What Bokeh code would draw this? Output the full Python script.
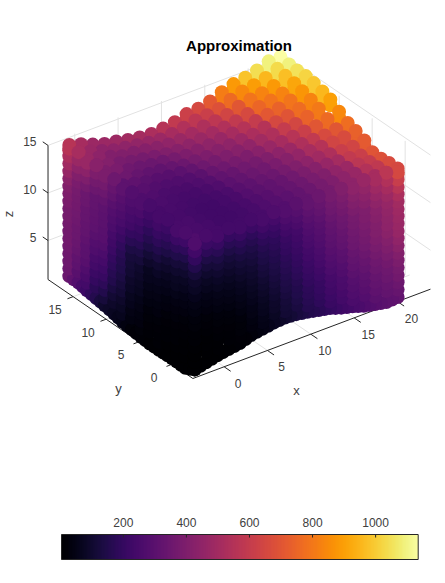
import numpy as np
from bokeh.plotting import figure
from bokeh.models import Range1d, ColumnDataSource, LinearColorMapper
from bokeh.palettes import Inferno256
from bokeh.core.properties import value
from bokeh.embed import file_html
from bokeh.resources import INLINE

TITLE = "Approximation"
x_ticks = [0, 5, 10, 15, 20]
y_ticks = [0, 5, 10, 15]
z_ticks = [5, 10, 15]
cbar_ticks = [200, 400, 600, 800, 1000]
cbar_low, cbar_high = 4, 1135
x_lim = (-3.6, 23.8)
y_lim = (-3.15, 18.8)
z_lim = (0.9, 15)

x_grid = [-3.2,-1.9,-0.6,0.7,2.0,3.3,4.6,5.9,7.2,8.5,9.8,11.1,12.4,13.7,15.0,16.3,17.6,18.9,20.2]
y_grid = [-2.9,-1.5,-0.2,1.2,2.5,3.9,5.2,6.6,8.0,9.3,10.7,12.0,13.4,14.7,16.1]
# how far the far end of each y row reaches beyond x_grid's last value
x_reach = [0,0.07,0.14,0.2,0.27,0.34,0.41,0.48,0.54,0.61,0.68,0.75,0.81,0.88,0.95]

# lower end of the point cloud along the x side and the y side
z_floor_xside = [1.6,1.9,2.2,2.4,2.6,3.0,3.2,3.4,3.5,3.4,3.2,2.95,2.7,2.3,2.0,1.6,1.35,1.1,1.2]
z_floor_yside = [1.6,1.1,1.15,1.15,1.1,1.1,1.2,1.3,1.45,1.7,1.9,2.05,2.2,2.4,2.4]
# values of the extra points half way between the lowest points
v_floor_xmid = [6,7,9,13,21,36,58,85,112,138,162,187,212,237,260,280,298,312]
v_floor_ymid = [5,6,8,9,11,15,21,37,60,84,125,188,250,310]

# upper sheet: z for each x (rows) and y (columns)
z_top = [
[15.2,15.3,15.3,15.4,15.5,15.6,15.6,15.7,15.8,15.8,15.9,16.0,16.0,16.1,16.2],
[15.2,15.2,15.3,15.3,15.3,15.4,15.4,15.5,15.5,15.5,15.6,15.6,15.7,15.7,15.8],
[15.1,15.1,15.1,15.1,15.1,15.2,15.2,15.2,15.2,15.2,15.2,15.3,15.3,15.3,15.3],
[15.1,15.1,15.1,15.1,15.0,15.0,15.0,15.0,15.0,15.0,15.0,15.0,14.9,14.9,14.9],
[15.1,15.1,15.0,15.0,15.0,15.0,14.9,14.9,14.9,14.9,14.8,14.8,14.8,14.7,14.7],
[15.1,15.0,15.0,15.0,14.9,14.9,14.9,14.8,14.8,14.7,14.7,14.6,14.6,14.5,14.4],
[15.0,15.0,14.9,14.9,14.8,14.8,14.7,14.7,14.6,14.5,14.5,14.4,14.4,14.3,14.2],
[15.0,14.9,14.9,14.8,14.8,14.7,14.7,14.6,14.5,14.5,14.4,14.3,14.3,14.2,14.1],
[15.0,14.9,14.9,14.8,14.8,14.7,14.7,14.6,14.6,14.5,14.5,14.4,14.3,14.3,14.2],
[15.0,15.0,14.9,14.9,14.8,14.8,14.8,14.7,14.7,14.7,14.6,14.6,14.5,14.5,14.4],
[14.9,14.9,14.9,14.9,14.9,14.9,14.9,14.9,14.8,14.8,14.8,14.8,14.8,14.8,14.8],
[14.9,14.9,14.9,14.9,14.9,14.9,14.9,14.9,14.9,14.9,14.9,14.9,14.9,14.9,14.9],
[14.9,14.9,14.9,14.9,14.9,15.0,15.0,15.0,15.0,15.0,15.0,15.1,15.1,15.1,15.2],
[14.8,14.8,14.9,14.9,14.9,15.0,15.0,15.1,15.2,15.3,15.3,15.4,15.5,15.6,15.7],
[14.8,14.8,14.8,14.9,15.0,15.0,15.1,15.2,15.3,15.4,15.5,15.7,15.8,16.0,16.1],
[14.8,14.8,14.8,14.8,14.9,15.0,15.1,15.3,15.4,15.6,15.7,15.9,16.0,16.2,16.3],
[14.8,14.7,14.7,14.7,14.8,15.0,15.1,15.4,15.7,15.9,16.1,16.2,16.3,16.5,16.6],
[14.7,14.6,14.5,14.5,14.8,15.1,15.3,15.7,16.1,16.4,16.6,16.8,16.9,17.0,17.1],
[14.7,14.6,14.4,14.4,15.0,15.3,15.5,16.0,16.6,16.8,17.0,17.1,17.0,17.0,17.1],
]

# values of the upper sheet
v_top = [
[265,258,250,240,245,250,265,280,305,350,390,425,470,515,560],
[250,250,248,245,250,258,272,288,312,352,385,412,440,472,510],
[240,240,238,238,243,250,260,276,298,328,355,382,408,439,480],
[235,233,232,232,236,243,253,268,288,315,342,372,405,438,480],
[235,233,232,233,238,245,255,270,290,315,342,372,407,442,485],
[240,238,238,240,245,254,265,282,303,328,355,385,418,452,495],
[250,248,248,252,260,270,283,300,322,347,373,402,430,465,505],
[265,268,273,281,291,304,317,335,353,374,395,421,447,481,525],
[280,283,288,297,308,321,335,354,374,396,418,445,473,508,555],
[300,303,309,317,329,344,358,378,399,422,445,474,503,541,590],
[320,322,328,335,345,358,373,395,420,445,470,500,530,575,620],
[345,345,350,360,372,385,405,425,450,480,510,540,575,615,650],
[375,375,380,390,405,420,440,470,495,525,555,590,640,680,710],
[405,400,405,420,440,455,480,510,530,555,600,655,700,760,810],
[440,440,450,465,490,515,530,560,600,650,705,750,790,840,880],
[470,470,480,505,530,555,590,615,645,695,740,790,830,890,980],
[510,545,570,590,610,640,660,700,740,765,790,830,880,950,1040],
[570,585,600,615,640,665,700,760,800,830,870,910,970,1030,1090],
[650,665,680,695,715,735,770,840,900,950,985,1020,1050,1090,1135],
]

# values up the side where y is lowest: one list per x, from bottom to top
v_xside = [
[5,6,8,10,13,17,22,30,38,48,60,75,92,115,150,190,230,265],
[6,8,10,12,15,20,26,33,42,52,64,78,95,115,145,180,215,250],
[8,10,12,15,18,23,30,37,46,55,68,82,98,115,140,170,205,240],
[11,13,16,20,24,30,37,45,54,63,75,88,103,120,142,168,200,235],
[15,18,22,26,30,37,45,53,62,72,84,97,112,130,150,175,205,235],
[28,33,38,44,50,58,66,75,84,93,105,117,130,145,163,185,212,240],
[45,50,56,63,70,78,87,96,105,115,125,137,148,160,178,200,225,250],
[72,78,84,91,98,106,115,124,133,142,152,162,173,185,200,218,240,265],
[100,106,112,118,125,134,143,152,161,170,180,190,200,210,225,243,262,280],
[125,131,138,146,153,162,172,182,191,200,210,219,228,238,252,268,284,300],
[150,157,165,172,180,190,200,210,220,230,238,247,256,265,279,293,306,320],
[175,183,191,199,207,218,228,239,250,260,268,276,284,295,308,320,332,345],
[200,209,218,226,235,246,257,268,279,290,298,306,315,325,337,349,361,375],
[225,234,243,252,260,271,282,293,304,315,323,331,340,350,363,376,390,405],
[250,259,268,277,285,297,309,321,333,345,352,360,367,375,390,405,422,440],
[270,280,290,298,307,320,333,346,358,370,378,386,393,400,417,434,452,470],
[290,300,310,320,330,343,356,369,382,395,402,409,417,425,445,465,487,510],
[305,318,330,340,352,366,382,398,413,430,438,445,453,460,482,510,540,570],
[320,335,348,362,375,392,410,430,448,465,472,480,487,495,525,565,605,650],
]

# values up the side where x is lowest: one list per y, from bottom to top
v_yside = [
[5,6,8,10,13,17,22,30,38,48,60,75,92,115,150,190,230,265],
[6,7,9,11,14,18,24,31,40,50,62,76,93,115,148,185,222,258],
[7,8,10,13,16,21,27,34,43,54,66,79,95,118,148,180,215,250],
[8,10,13,16,20,25,31,39,49,60,73,90,110,140,165,190,215,240],
[10,13,16,20,25,31,38,47,57,65,80,100,125,150,178,203,227,245],
[12,16,20,25,30,37,45,53,62,70,88,112,138,160,185,210,232,250],
[18,24,31,38,48,57,66,76,85,95,115,140,165,190,210,232,252,265],
[25,35,46,58,70,81,92,103,113,120,140,170,198,225,240,255,268,280],
[50,63,76,92,108,122,135,147,158,170,188,210,232,250,262,275,288,305],
[72,90,108,128,150,166,182,197,212,228,242,258,268,280,295,315,335,350],
[95,122,150,178,205,222,240,258,274,290,295,300,303,305,325,345,368,390],
[155,175,195,215,235,250,265,280,293,305,310,315,320,325,345,370,395,425],
[220,238,255,272,290,297,304,311,318,325,330,335,340,345,370,400,435,470],
[280,292,305,317,330,336,342,348,354,360,364,368,372,385,410,440,475,515],
[340,345,350,355,360,363,366,369,372,375,385,395,410,430,460,490,525,560],
]

INK = "#262626"
TXT = "#404040"
GRID = "#e2e2e2"
FONT = value("Liberation Sans")


def project(x, y, z):
    x, y, z = np.asarray(x, float), np.asarray(y, float), np.asarray(z, float)
    sx = 192.4 + 8.67 * (x - x_lim[0]) - 6.6 * (y - y_lim[0])
    sy = 378 - 3.26 * (x - x_lim[0]) - 4.51 * (y - y_lim[0]) - 9.51 * (z - z_lim[0])
    return sx, sy


def seg(a, b, shift=0.0):
    (ax, ay), (bx, by) = project(*a), project(*b)
    return [float(ax) + shift, float(bx) + shift], [float(ay), float(by)]


p = figure(width=437, height=575, x_range=Range1d(0, 437), y_range=Range1d(575, 0),
           x_axis_location=None, y_axis_location=None, toolbar_location=None,
           output_backend="svg", min_border=0, outline_line_color=None)
p.grid.visible = False

x0, x1 = x_lim
y0, y1 = y_lim
z0, z1 = z_lim

# grid lines on the floor and the two back walls
gx, gy = [], []
BACK = -4.5
for t in x_ticks:
    for a, b, s in [((t, y0, z0), (t, y1, z0), 0), ((t, y1, z0), (t, y1, z1), BACK)]:
        u, w = seg(a, b, s); gx.append(u); gy.append(w)
for t in y_ticks:
    for a, b, s in [((x0, t, z0), (x1, t, z0), 0), ((x1, t, z0), (x1, t, z1), BACK)]:
        u, w = seg(a, b, s); gx.append(u); gy.append(w)
for t in z_ticks:
    for a, b in [((x0, y1, t), (x1, y1, t)), ((x1, y1, t), (x1, y0, t))]:
        u, w = seg(a, b); gx.append(u); gy.append(w)
p.multi_line(gx, gy, line_color=GRID, line_width=1)

# axis lines and tick marks
ax, ay = [], []
for a, b in [((x0, y0, z0), (x1, y0, z0)), ((x0, y0, z0), (x0, y1, z0)), ((x0, y1, z0), (x0, y1, z1))]:
    u, w = seg(a, b); ax.append(u); ay.append(w)
for t in x_ticks:
    u, w = seg((t, y0, z0), (t, y0 - 1.0, z0)); ax.append(u); ay.append(w)
for t in y_ticks:
    u, w = seg((x0, t, z0), (x0 - 0.65, t, z0)); ax.append(u); ay.append(w)
for t in z_ticks:
    u, w = seg((x0, y1, t), (x0, y1 + 0.8, t)); ax.append(u); ay.append(w)
p.multi_line(ax, ay, line_color=INK, line_width=1)

# the points: the under-layer first, then the sheet from the far corner forward,
# then the two sides from the bottom up
under, sheet, sides = [], [], []
n_up = len(v_xside[0])
for i, xv in enumerate(x_grid):
    for k in range(n_up):
        f = 0.0 if k == 0 else (k + 0.5 * (i % 2)) / (n_up - 0.5)
        sides.append((xv, y_grid[0], z_floor_xside[i] + (z_top[i][0] - z_floor_xside[i]) * f, v_xside[i][k], k))
for j, yv in enumerate(y_grid):
    for k in range(n_up):
        f = 0.0 if k == 0 else (k + 0.5 * (j % 2)) / (n_up - 0.5)
        sides.append((x_grid[0], yv, z_floor_yside[j] + (z_top[0][j] - z_floor_yside[j]) * f, v_yside[j][k], k))
for i, v in enumerate(v_floor_xmid):
    sides.append(((x_grid[i] + x_grid[i + 1]) / 2, y_grid[0], (z_floor_xside[i] + z_floor_xside[i + 1]) / 2, v, 0))
for j, v in enumerate(v_floor_ymid):
    sides.append((x_grid[0], (y_grid[j] + y_grid[j + 1]) / 2, (z_floor_yside[j] + z_floor_yside[j + 1]) / 2, v, 0))
for i, xv in enumerate(x_grid):
    for j, yv in enumerate(y_grid):
        xx = xv + x_reach[j] * i / (len(x_grid) - 1)
        sheet.append((xx, yv, z_top[i][j], v_top[i][j]))
        under.append((xx, yv, z_top[i][j] - 0.6, v_top[i][j]))
depth = lambda q: 0.35 * q[0] + 0.45 * q[1]
under.sort(key=depth, reverse=True)
sheet.sort(key=depth, reverse=True)
sides.sort(key=lambda q: (q[4], -depth(q)))
pts = np.array([q[:4] for q in sides[:0] + under + [q for q in sides if q[4] < n_up - 3] + sheet + [q for q in sides if q[4] >= n_up - 3]])
sx, sy = project(pts[:, 0], pts[:, 1], pts[:, 2])
mapper = LinearColorMapper(palette=Inferno256, low=cbar_low, high=cbar_high)
src = ColumnDataSource(dict(sx=sx, sy=sy, v=pts[:, 3]))
p.scatter("sx", "sy", source=src, size=14, line_color=None,
          fill_color={"field": "v", "transform": mapper})

# tick labels and axis labels


def label(xs, ys, texts, size="12px", align="center", color=TXT, style="normal", angle=0.0):
    p.text(xs, ys, text=texts, text_font=FONT, text_font_size=size, text_color=color,
           text_align=align, text_baseline="middle", text_font_style=style, angle=angle)


tx, ty = project(x_ticks, [y0] * len(x_ticks), [z0] * len(x_ticks))
label(tx + 14, ty + 16.5, [str(t) for t in x_ticks])
tx, ty = project([x0] * len(y_ticks), y_ticks, [z0] * len(y_ticks))
label(tx - 18, ty + 13, [str(t) for t in y_ticks])
tx, ty = project([x0] * len(z_ticks), [y1] * len(z_ticks), z_ticks)
label(tx - 11.5, ty - 3.5, [str(t) for t in z_ticks], align="right")
label([296], [390], ["x"], size="13px")
label([118], [388], ["y"], size="13px")
label([8], [213.5], ["z"], size="13px", angle=np.pi / 2)
label([238.5], [45], [TITLE], size="15px", color="#000000", style="bold")

# colour bar
cb_left, cb_right, cb_top, cb_bottom = 61, 417.7, 534, 559
ramp = np.linspace(cbar_low, cbar_high, 256).reshape(1, -1)
p.image(image=[ramp], x=cb_left, y=cb_top, dw=cb_right - cb_left, dh=cb_bottom - cb_top,
        color_mapper=mapper)
p.quad(left=[cb_left], right=[cb_right], top=[cb_top], bottom=[cb_bottom],
       fill_color=None, line_color=INK, line_width=1)
cx = [cb_left + (t - cbar_low) / (cbar_high - cbar_low) * (cb_right - cb_left) for t in cbar_ticks]
p.multi_line([[c, c] for c in cx], [[cb_top, cb_top + 3] for c in cx], line_color=INK, line_width=1)
label(cx, [522] * len(cx), [str(t) for t in cbar_ticks])

open("out.html", "w").write(file_html(p, INLINE))
